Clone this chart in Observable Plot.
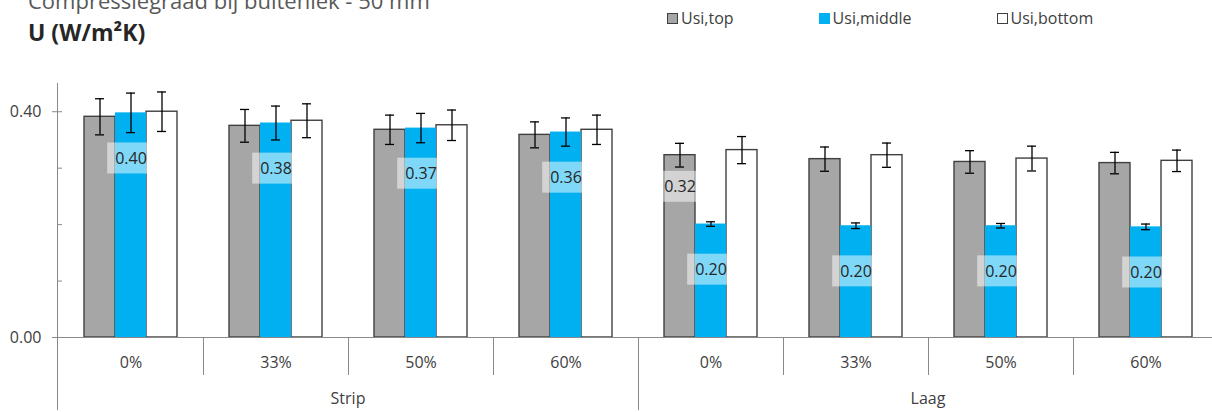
<!DOCTYPE html>
<html>
<head>
<meta charset="utf-8">
<script src="https://cdn.jsdelivr.net/npm/d3@7"></script>
<script src="https://cdn.jsdelivr.net/npm/@observablehq/plot@0.6"></script>
<style>
  html, body { margin: 0; padding: 0; background: #fff; overflow: hidden; width: 1212px; height: 412px; }
  body { font-family: "Open Sans", sans-serif; }
  #header { position: relative; height: 60px; width: 1212px; overflow: hidden; }
  #title { position: absolute; left: 28px; top: -11px; font-size: 22px; line-height: 22px; color: #595959; white-space: nowrap; }
  #unit { position: absolute; left: 28px; top: 21px; font-size: 23px; line-height: 23px; font-weight: bold; color: #262626; white-space: nowrap; }
  #legend { position: absolute; left: 667px; top: 8px; display: flex; gap: 85px; font-size: 16px; line-height: 20px; color: #404040; }
  .item { display: flex; align-items: center; white-space: nowrap; }
  .sw { display: inline-block; width: 11px; height: 11px; margin-right: 3px; box-sizing: border-box; }
  #chart { width: 1212px; overflow: hidden; }
  #chart svg { max-width: none !important; }
</style>
</head>
<body>
<div id="header">
  <div id="title">Compressiegraad bij buitenlek - 50 mm</div>
  <div id="unit">U (W/m²K)</div>
  <div id="legend"></div>
</div>
<div id="chart"></div>
<script>
// ---- data ----
const groups  = ["Strip", "Strip", "Strip", "Strip", "Laag", "Laag", "Laag", "Laag"];
const degrees = ["0%", "33%", "50%", "60%", "0%", "33%", "50%", "60%"];
const series  = ["Usi,top", "Usi,middle", "Usi,bottom"];
const seriesColors  = ["#A6A6A6", "#00B0F0", "#FFFFFF"];
const seriesStrokes = ["#404040", "none", "#404040"];

const usiTop    = [0.391, 0.375, 0.368, 0.359, 0.323, 0.316, 0.311, 0.309];
const usiMiddle = [0.398, 0.380, 0.371, 0.364, 0.201, 0.198, 0.198, 0.196];
const usiBottom = [0.400, 0.384, 0.376, 0.368, 0.332, 0.323, 0.317, 0.313];

const errTop    = [0.032, 0.029, 0.026, 0.023, 0.021, 0.0215, 0.020, 0.019];
const errMiddle = [0.035, 0.030, 0.026, 0.025, 0.004, 0.005, 0.004, 0.005];
const errBottom = [0.035, 0.030, 0.027, 0.026, 0.024, 0.0215, 0.022, 0.019];

// which bars carry a data label
const labelTop    = [false, false, false, false, true, false, false, false];
const labelMiddle = [true, true, true, true, true, true, true, true];
const labelBottom = [false, false, false, false, false, false, false, false];

const yMajorTicks = [0, 0.4];
const yAllTicks   = [0, 0.1, 0.2, 0.3, 0.4];
const yMax = 0.45;

// ---- build table ----
const cats = groups.map((g, i) => g + " " + degrees[i]);
const values = [usiTop, usiMiddle, usiBottom];
const errs = [errTop, errMiddle, errBottom];
const labels = [labelTop, labelMiddle, labelBottom];
const rows = [];
cats.forEach((c, i) => series.forEach((s, j) => rows.push({
  cat: c, group: groups[i], degree: degrees[i], series: s, sj: j,
  value: values[j][i], err: errs[j][i], label: labels[j][i]
})));

// ---- legend ----
const legend = d3.select("#legend");
series.forEach((s, j) => {
  const it = legend.append("div").attr("class", "item");
  it.append("span").attr("class", "sw")
    .style("background", seriesColors[j])
    .style("border", seriesStrokes[j] === "none" ? "none" : "1px solid " + seriesStrokes[j]);
  it.append("span").text(s);
});

// ---- plot ----
const W = 1219, H = 352, mL = 57, mT = 23, mB = 75;
const fmt = d3.format(".2f");
const plot = Plot.plot({
  width: W, height: H,
  marginLeft: mL, marginRight: 0, marginTop: mT, marginBottom: mB,
  style: { fontFamily: "Open Sans", fontSize: "16px", color: "#404040", background: "white", overflow: "visible", maxWidth: "none" },
  fx: { domain: cats, padding: 0, axis: "bottom", tickSize: 0, tickPadding: 19, label: null,
        tickFormat: c => degrees[cats.indexOf(c)] },
  x: { domain: series, paddingInner: 0, paddingOuter: 0.78, axis: null },
  y: { domain: [0, yMax], axis: null },
  color: { domain: series, range: seriesColors },
  marks: [
    Plot.axisY(yMajorTicks, { tickFormat: fmt, tickSize: 6, tickPadding: 11, label: null, stroke: "#898989", fontSize: 16 }),
    Plot.barY(rows.filter(d => seriesStrokes[d.sj] !== "none"), {
      fx: "cat", x: "series", y: "value", fill: "series", stroke: "#404040", strokeWidth: 1.4
    }),
    Plot.barY(rows.filter(d => seriesStrokes[d.sj] === "none"), {
      fx: "cat", x: "series", y: "value", fill: "series"
    }),
    Plot.ruleY([0], { stroke: "#898989" }),
    Plot.ruleX(rows, { fx: "cat", x: "series", y1: d => d.value - d.err, y2: d => d.value + d.err, stroke: "#000", strokeWidth: 1.3 }),
    Plot.tickY(rows, { fx: "cat", x: "series", y: d => d.value - d.err, stroke: "#000", strokeWidth: 1.3, inset: 11 }),
    Plot.tickY(rows, { fx: "cat", x: "series", y: d => d.value + d.err, stroke: "#000", strokeWidth: 1.3, inset: 11 }),
    Plot.text(rows.filter(d => d.label && d.sj === 1), {
      fx: "cat", x: "series", y: "value", text: d => fmt(d.value), dy: 46,
      fill: "#262626", fontSize: 16, ariaDescription: "vlabel-mid"
    }),
    Plot.text(rows.filter(d => d.label && d.sj !== 1), {
      fx: "cat", x: "series", y: "value", text: d => fmt(d.value), dy: 32,
      fill: "#262626", fontSize: 16, ariaDescription: "vlabel-top"
    })
  ]
});
document.getElementById("chart").append(plot);

// ---- decorations derived from the plot's scales ----
const svg = d3.select(plot);
const fx = plot.scale("fx"), ys = plot.scale("y");
const bw = fx.bandwidth;
const base = ys.apply(0);

// label boxes (semi-transparent white behind each value label)
const labelRe = /^\d\.\d\d$/;
svg.selectAll("text").each(function () {
  if (!labelRe.test(this.textContent)) return;
  const host = this.closest("g[aria-description]");
  if (!host) return;
  const kind = host.getAttribute("aria-description");
  if (kind !== "vlabel-mid" && kind !== "vlabel-top") return;
  const padL = kind === "vlabel-mid" ? 8 : 1, padR = 1;
  const b = this.getBBox();
  const cy = b.y + b.height / 2;
  const r = document.createElementNS("http://www.w3.org/2000/svg", "rect");
  r.setAttribute("x", b.x - padL);
  r.setAttribute("y", cy - 15.5);
  r.setAttribute("width", b.width + padL + padR);
  r.setAttribute("height", 31);
  r.setAttribute("fill", "#ffffff");
  r.setAttribute("fill-opacity", 0.5);
  const t = this.getAttribute("transform");
  if (t) r.setAttribute("transform", t);
  this.parentNode.insertBefore(r, this);
});

const deco = svg.append("g").attr("stroke", "#898989").attr("fill", "none");
// y axis line
deco.append("line").attr("x1", mL + 0.5).attr("x2", mL + 0.5).attr("y1", ys.apply(yMax)).attr("y2", H - 2);
// inner tick marks
yAllTicks.forEach(v => deco.append("line")
  .attr("x1", mL).attr("x2", mL + 5).attr("y1", ys.apply(v) + 0.5).attr("y2", ys.apply(v) + 0.5));
// category / group separators
cats.forEach((c, i) => {
  if (i === 0) return;
  const x = Math.round(fx.apply(c)) + 0.5;
  const isGroup = groups[i] !== groups[i - 1];
  deco.append("line").attr("x1", x).attr("x2", x).attr("y1", base).attr("y2", isGroup ? H - 2 : base + 38);
});
// group labels
const gl = svg.append("g").attr("fill", "#404040").attr("font-size", 16).attr("text-anchor", "middle");
[...new Set(groups)].forEach(g => {
  const idx = groups.map((d, i) => d === g ? i : -1).filter(i => i >= 0);
  const x0 = fx.apply(cats[idx[0]]), x1 = fx.apply(cats[idx[idx.length - 1]]) + bw;
  gl.append("text").attr("x", (x0 + x1) / 2).attr("y", base + 67).text(g);
});
</script>
</body>
</html>
